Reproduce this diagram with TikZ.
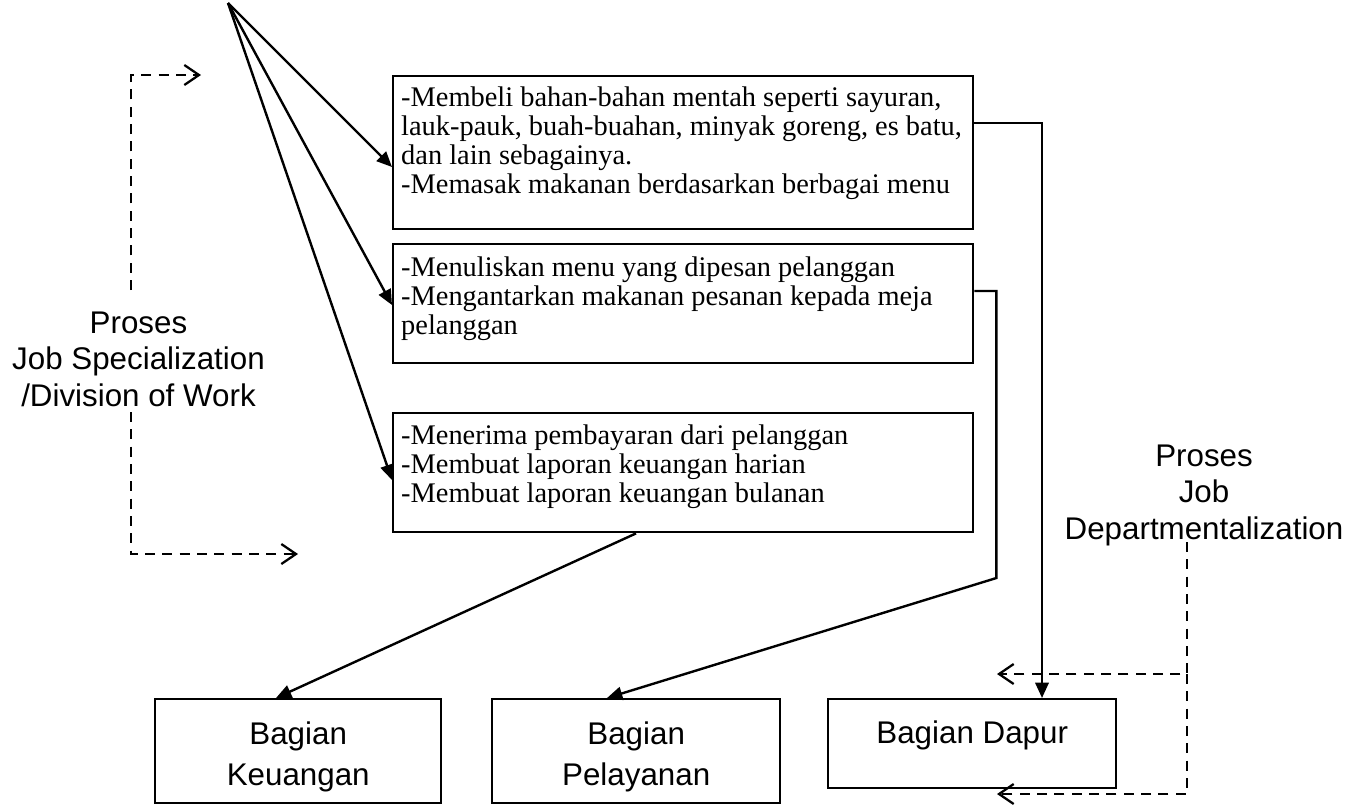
\documentclass[tikz,border=0pt]{standalone}
\usepackage{fontspec}
\setmainfont{Liberation Serif}
\newfontfamily\arialfont{Liberation Sans}
\usetikzlibrary{arrows.meta,calc}

\begin{document}
\begin{tikzpicture}[x=0.75pt,y=-0.75pt,
  line width=1.8pt,
  box/.style={draw, line width=1.8pt, rectangle, inner sep=0pt, anchor=north west},
  duty/.style={font=\fontsize{21.3}{21.75}\selectfont, align=left, inner sep=0pt, anchor=north west},
  proclabel/.style={font=\arialfont\fontsize{23.5}{27.2}\selectfont, align=center, inner sep=0pt},
  unitname/.style={font=\arialfont\fontsize{23.5}{31}\selectfont, align=center, inner sep=0pt},
  solidarrow/.style={line width=1.8pt, -{Triangle[length=11.5pt,width=10pt]}},
  dasharrow/.style={line width=1.7pt, dash pattern=on 7.5pt off 5.5pt,
    -{Straight Barb[length=11pt,width=15pt,line width=1.7pt]}},
]
\useasboundingbox (0,0) rectangle (1355,807);

% task boxes
\node[box, minimum width=435pt, minimum height=114.75pt] (b1) at (392,75) {};
\node[box, minimum width=435pt, minimum height=89.25pt] (b2) at (392,243) {};
\node[box, minimum width=435pt, minimum height=89.25pt] (b3) at (392,412) {};

\node[duty] (t1) at ($(b1.north west)+(8,10)$) {\strut-Membeli bahan-bahan mentah seperti sayuran,\\
lauk-pauk, buah-buahan, minyak goreng, es batu,\\
dan lain sebagainya.\\
-Memasak makanan berdasarkan berbagai menu};
\node[duty] (t2) at ($(b2.north west)+(8,11.5)$) {\strut-Menuliskan menu yang dipesan pelanggan\\
-Mengantarkan makanan pesanan kepada meja\\
pelanggan};
\node[duty] (t3) at ($(b3.north west)+(8,10.5)$) {\strut-Menerima pembayaran dari pelanggan\\
-Membuat laporan keuangan harian\\
-Membuat laporan keuangan bulanan};

% department boxes
\node[box, minimum width=214.5pt, minimum height=78pt] (keu) at (154,698) {};
\node[box, minimum width=216pt, minimum height=78pt] (pel) at (491,698) {};
\node[box, minimum width=216pt, minimum height=66.75pt] (dap) at (827,698) {};

\node[unitname, anchor=north] (keuT) at ($(keu.north)+(0,16)$) {\strut Bagian\\Keuangan};
\node[unitname, anchor=north] (pelT) at ($(pel.north)+(0,16)$) {\strut Bagian\\Pelayanan};
\node[unitname, anchor=north] (dapT) at ($(dap.north)+(0,15)$) {\strut Bagian Dapur};

% process labels
\node[proclabel, anchor=north] (spec) at (138.5,307) {\strut Proses\\Job Specialization\\/Division of Work};
\node[proclabel, anchor=north] (dept) at (1204,440) {\strut Proses\\Job\\Departmentalization};

% fan of arrows from the common source point
\coordinate (apex) at (228,3);
\draw[solidarrow] (apex) -- ($(b1.north west)+(0,92)$);
\draw[solidarrow] (apex) -- ($(b2.north west)+(0,62)$);
\draw[solidarrow] (apex) -- ($(b3.north west)+(0,68)$);

% tasks grouped into departments
\draw[solidarrow] ($(b1.north east)+(0,48)$) -| ($(dap.north west)+(215,0)$);
\draw[solidarrow] ($(b2.north east)+(0,48)$) -- ++(22,0) -- ++(0,287)
  -- ($(pel.north west)+(116,0)$);
\draw[solidarrow] ($(b3.south west)+(244,0)$) -- ($(keu.north west)+(122,0)$);

% dashed brackets of the two processes
\coordinate (specUp) at (131,290);
\coordinate (specUpEnd) at (201,75);
\coordinate (specDown) at (131,412);
\coordinate (specDownEnd) at (298,554);
\draw[dasharrow] (specUp) |- (specUpEnd);
\draw[dasharrow] (specDown) |- (specDownEnd);

\coordinate (deptTop) at (1187,542);
\coordinate (deptMid) at (1187,674);
\coordinate (deptMidEnd) at (997,674);
\coordinate (deptLowEnd) at (997,794);
\draw[dasharrow] (deptTop) -- (deptMid) -- (deptMidEnd);
\draw[dasharrow] (deptMid) |- (deptLowEnd);
\end{tikzpicture}
\end{document}
